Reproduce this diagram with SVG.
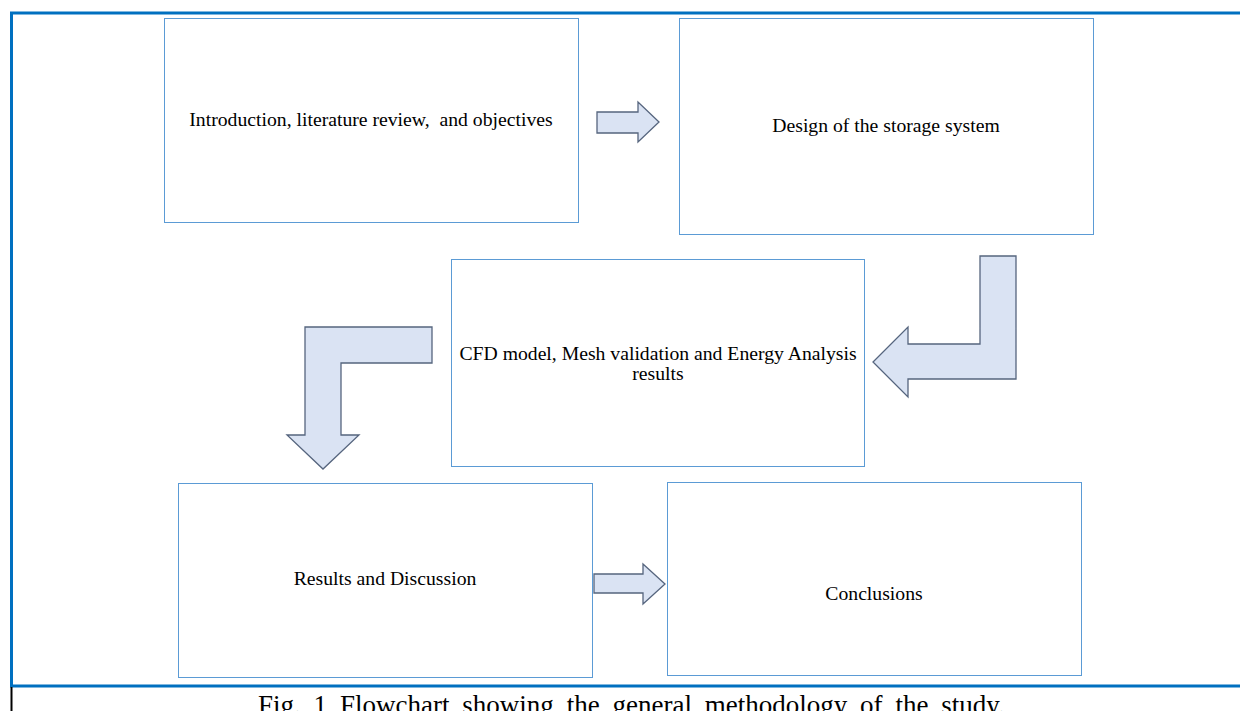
<svg xmlns="http://www.w3.org/2000/svg" width="1240" height="711" viewBox="0 0 1240 711">
<style>
.box{fill:#fff;stroke:#5b9bd5;stroke-width:1}
.arr{fill:#dae3f3;stroke:#56657e;stroke-width:1.3;stroke-linejoin:miter}
.t{font-family:"Liberation Serif","Times New Roman",serif;font-size:19.7px;fill:#000;text-anchor:middle}
.cap{font-family:"Liberation Serif","Times New Roman",serif;font-size:27px;fill:#000;word-spacing:6.1px}
</style>
<rect width="1240" height="711" fill="#fff"/>
<g id="frame">
<line x1="10" y1="13" x2="1240" y2="13" stroke="#0070c0" stroke-width="3"/>
<line x1="11.5" y1="12" x2="11.5" y2="687" stroke="#0070c0" stroke-width="3"/>
<line x1="10" y1="686" x2="1240" y2="686" stroke="#0070c0" stroke-width="3"/>
<line x1="11.5" y1="687" x2="11.5" y2="711" stroke="#000" stroke-width="2"/>
</g>
<g id="n1"><rect class="box" x="164.5" y="18.5" width="414" height="204"/><text class="t" x="371" y="126" xml:space="preserve">Introduction, literature review,  and objectives</text></g>
<g id="n2"><rect class="box" x="679.5" y="18.5" width="414" height="216"/><text class="t" x="886" y="132">Design of the storage system</text></g>
<g id="n3"><rect class="box" x="451.5" y="259.5" width="413" height="207"/><text class="t" x="658" y="360">CFD model, Mesh validation and Energy Analysis</text><text class="t" x="658" y="380">results</text></g>
<g id="n4"><rect class="box" x="178.5" y="483.5" width="414" height="194"/><text class="t" x="385" y="585">Results and Discussion</text></g>
<g id="n5"><rect class="box" x="667.5" y="482.5" width="414" height="193"/><text class="t" x="874" y="600">Conclusions</text></g>
<g id="connectors">
<polygon class="arr" points="597,112 638,112 638,102 659,122 638,142 638,133 597,133"/>
<polygon class="arr" points="980,256 1016,256 1016,379 908,379 908,397 873,362 908,327 908,344 980,344"/>
<polygon class="arr" points="432,327 432,363 341,363 341,435 359,435 323,469 287,435 305,435 305,327"/>
<polygon class="arr" points="594,574 643,574 643,564 665,584 643,604 643,593 594,593"/>
</g>
<text class="cap" x="258" y="714">Fig. 1 Flowchart showing the general methodology of the study.</text>
</svg>
